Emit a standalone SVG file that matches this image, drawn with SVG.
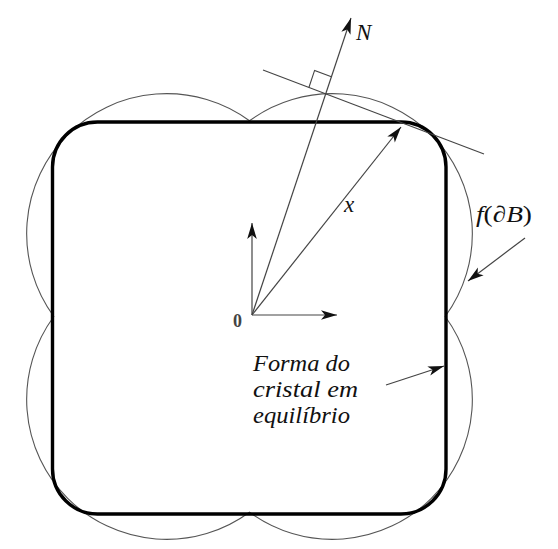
<svg xmlns="http://www.w3.org/2000/svg" width="558" height="549" viewBox="0 0 558 549">
<style>
.thin{fill:none;stroke:#444;stroke-width:1.1}
.lobe{fill:none;stroke:#555;stroke-width:1.1}
.crystal{fill:none;stroke:#000;stroke-width:3.4}
.arr{fill:none;stroke:#444;stroke-width:1.2;marker-end:url(#ah)}
.math{font-style:italic;font-size:23px;fill:#111}
.up{font-style:normal}
</style>
<defs>
<marker id="ah" markerUnits="userSpaceOnUse" markerWidth="20" markerHeight="12" viewBox="-17 -6 18 12" refX="0" refY="0" orient="auto">
<path d="M0,0 L-16,-4.8 L-12,0 L-16,4.8 Z" fill="#111"/>
</marker>
</defs>
<rect width="558" height="549" fill="#fff"/>
<g id="wulff-plot">
<path class="lobe" d="M249.5,120.8 A140,140 0 0 0 53.8,316.5 A140,140 0 0 0 249.5,512.2 A140,140 0 0 0 445.2,316.5 A140,140 0 0 0 249.5,120.8 Z"/>
</g>
<g id="crystal">
<rect class="crystal" x="52.5" y="122" width="393.5" height="392" rx="45" ry="45"/>
</g>
<g id="connectors">
<line class="arr" x1="252" y1="315" x2="252" y2="223"/>
<line class="arr" x1="252" y1="315" x2="337" y2="315"/>
<line class="arr" x1="252" y1="315" x2="351" y2="18"/>
<line class="arr" x1="252" y1="315" x2="401" y2="127"/>
<line class="thin" x1="263" y1="70" x2="484" y2="154"/>
<polyline class="thin" points="308.9,87.5 314.6,70.4 331.4,76.8"/>
<line class="arr" x1="525" y1="238" x2="468" y2="281"/>
<line class="arr" x1="386" y1="385" x2="444" y2="366"/>
</g>
<g id="labels" font-family="Liberation Serif, serif">
<text class="math" x="356" y="40">N</text>
<text class="math" x="344" y="212">x</text>
<text class="math" x="476" y="222" textLength="56" lengthAdjust="spacingAndGlyphs">f<tspan class="up">(</tspan>∂B<tspan class="up">)</tspan></text>
<text x="233" y="327" font-size="18" font-weight="bold" fill="#444">0</text>
<text class="math" x="253" y="371" textLength="97" lengthAdjust="spacingAndGlyphs">Forma do</text>
<text class="math" x="253" y="397" textLength="105" lengthAdjust="spacingAndGlyphs">cristal em</text>
<text class="math" x="253" y="423" textLength="97" lengthAdjust="spacingAndGlyphs">equilíbrio</text>
</g>
</svg>
